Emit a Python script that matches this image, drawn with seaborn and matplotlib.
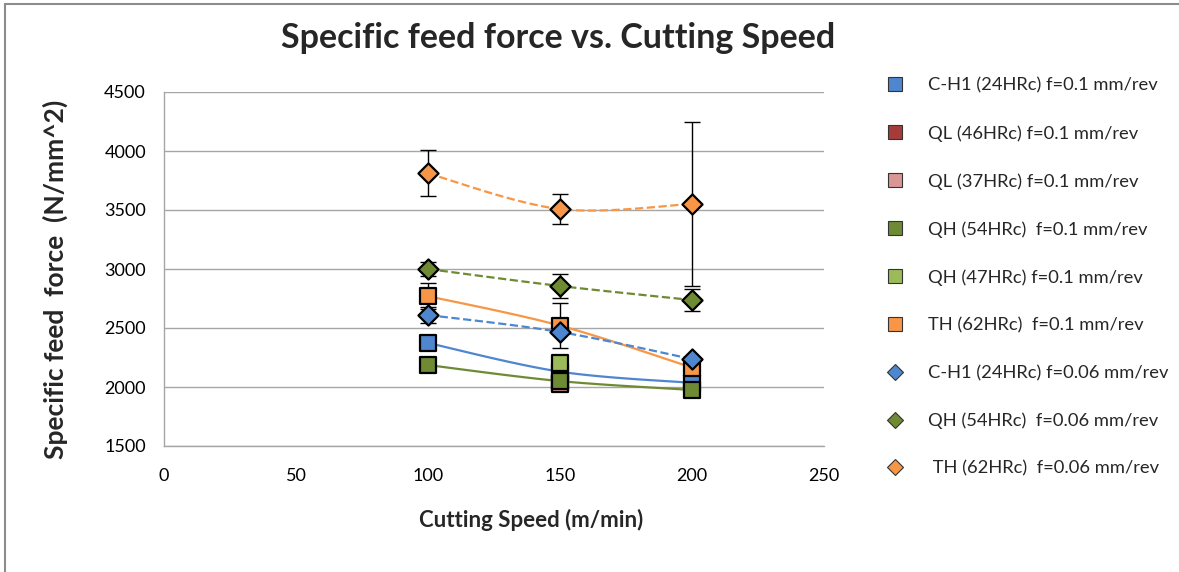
import numpy as np
import pandas as pd
import matplotlib
matplotlib.use("Agg")
import matplotlib.pyplot as plt
from matplotlib.lines import Line2D
import seaborn as sns

# Cutting speeds (m/min)
speed = [100, 150, 200]

# Specific feed force (N/mm^2), feed f = 0.1 mm/rev
ch1_f01 = [2373, 2130, 2035]
ql46_f01 = [np.nan, 2035, np.nan]
ql37_f01 = [np.nan, 2025, np.nan]
qh54_f01 = [2186, 2050, 1975]
qh47_f01 = [np.nan, 2200, np.nan]
th_f01 = [2770, 2520, 2165]
th_f01_err = [110, 190, 0]

# Specific feed force (N/mm^2), feed f = 0.06 mm/rev
ch1_f006 = [2610, 2466, 2237]
ch1_f006_err = [65, 0, 0]
qh54_f006 = [3000, 2856, 2737]
qh54_f006_err = [60, 105, 90]
th_f006 = [3810, 3508, 3551]
th_f006_err = [195, 125, 695]

labels = [
    "C-H1 (24HRc) f=0.1 mm/rev",
    "QL (46HRc) f=0.1 mm/rev",
    "QL (37HRc) f=0.1 mm/rev",
    "QH (54HRc)  f=0.1 mm/rev",
    "QH (47HRc) f=0.1 mm/rev",
    "TH (62HRc)  f=0.1 mm/rev",
    "C-H1 (24HRc) f=0.06 mm/rev",
    "QH (54HRc)  f=0.06 mm/rev",
    " TH (62HRc)  f=0.06 mm/rev",
]

BLUE = "#4F86D0"
RED = "#A63C3A"
PINK = "#D99694"
DKGREEN = "#6E8B34"
LTGREEN = "#9BBB59"
ORANGE = "#F79646"

sns.set_theme(style="white")
plt.rcParams["font.family"] = ["Lato", "DejaVu Sans"]

fig = plt.figure(figsize=(11.79, 5.72), dpi=100)
ax = fig.add_axes([164 / 1179, 1 - 446 / 572, 660 / 1179, 354 / 572])


def smooth(xs, ys, n=60):
    """Bezier smoothing through the points (spreadsheet-style smoothed line)."""
    pts = [(x, y) for x, y in zip(xs, ys) if not np.isnan(y)]
    if len(pts) < 2:
        return np.array([]), np.array([])
    P = np.array(pts, dtype=float)
    out_x, out_y = [], []
    for i in range(len(P) - 1):
        p0 = P[i - 1] if i > 0 else P[i]
        p1, p2 = P[i], P[i + 1]
        p3 = P[i + 2] if i + 2 < len(P) else P[i + 1]
        c1 = p1 + (p2 - p0) / 6.0
        c2 = p2 - (p3 - p1) / 6.0
        t = np.linspace(0, 1, n)[:, None]
        b = ((1 - t) ** 3) * p1 + 3 * ((1 - t) ** 2) * t * c1 + 3 * (1 - t) * t ** 2 * c2 + t ** 3 * p2
        out_x.extend(b[:, 0])
        out_y.extend(b[:, 1])
    return np.array(out_x), np.array(out_y)


series = [
    (ch1_f01, None, BLUE, "s", "-"),
    (ql46_f01, None, RED, "s", "-"),
    (ql37_f01, None, PINK, "s", "-"),
    (qh54_f01, None, DKGREEN, "s", "-"),
    (qh47_f01, None, LTGREEN, "s", "-"),
    (th_f01, th_f01_err, ORANGE, "s", "-"),
    (ch1_f006, ch1_f006_err, BLUE, "D", "--"),
    (qh54_f006, qh54_f006_err, DKGREEN, "D", "--"),
    (th_f006, th_f006_err, ORANGE, "D", "--"),
]

z = 3
for vals, err, color, marker, ls in series:
    sx, sy = smooth(speed, vals)
    if len(sx):
        sns.lineplot(x=sx, y=sy, sort=False, color=color, linestyle=ls,
                     linewidth=1.6, ax=ax, zorder=z, dashes=(4, 3) if ls == "--" else None)
    if err is not None:
        ax.errorbar(speed, vals, yerr=err, fmt="none", ecolor="black",
                    elinewidth=1.0, capsize=6, capthick=1.0, zorder=z + 0.5)
    df = pd.DataFrame({"x": speed, "y": vals}).dropna()
    sns.scatterplot(data=df, x="x", y="y", marker=marker, color=color,
                    edgecolor="black", linewidth=1.6,
                    s=140 if marker == "s" else 105, ax=ax, zorder=z + 1)
    z += 2

ax.set_xlim(0, 250)
ax.set_ylim(1500, 4500)
ax.set_xticks(np.arange(0, 251, 50))
ax.set_yticks(np.arange(1500, 4501, 500))
ax.tick_params(axis="both", length=0, labelsize=13, colors="black")
ax.tick_params(axis="y", pad=13)
ax.tick_params(axis="x", pad=16)
ax.grid(axis="y", color="#A6A6A6", linewidth=1.0)
ax.grid(axis="x", visible=False)
for side in ["top", "right"]:
    ax.spines[side].set_visible(False)
for side in ["left", "bottom"]:
    ax.spines[side].set_color("#A6A6A6")
    ax.spines[side].set_linewidth(1.0)

ax.set_xlabel("Cutting Speed (m/min)", fontsize=16, fontweight="bold")
ax.xaxis.set_label_coords((531 - 164) / 660, -(520 - 446) / 354)
ax.xaxis.label.set_va("center")
ax.set_ylabel("Specific feed  force  (N/mm^2)", fontsize=19, fontweight="bold")
ax.yaxis.set_label_coords(-(164 - 55) / 660, (446 - 279) / 354)
ax.yaxis.label.set_va("center")
fig.text(558 / 1179, 1 - 38 / 572, "Specific feed force vs. Cutting Speed",
         fontsize=24.5, fontweight="bold", ha="center", va="center")

handles = []
for vals, err, color, marker, ls in series:
    handles.append(Line2D([], [], linestyle="none", marker=marker, markerfacecolor=color,
                          markeredgecolor="#333333", markeredgewidth=0.8,
                          markersize=10 if marker == "s" else 8))
fig.legend(handles, labels, loc="upper left", bbox_to_anchor=(879 / 1179, 1 - 70 / 572),
           frameon=False, fontsize=13.2, labelspacing=1.72, handletextpad=1.3,
           handlelength=1.0, borderaxespad=0)

# outer chart border
fig.add_artist(Line2D([5 / 1179, 1.0], [1 - 4 / 572, 1 - 4 / 572], color="#8C8C8C",
                      linewidth=1.5, transform=fig.transFigure))
fig.add_artist(Line2D([5 / 1179, 5 / 1179], [0, 1 - 4 / 572], color="#8C8C8C",
                      linewidth=1.5, transform=fig.transFigure))

fig.savefig("out.png", dpi=100)
